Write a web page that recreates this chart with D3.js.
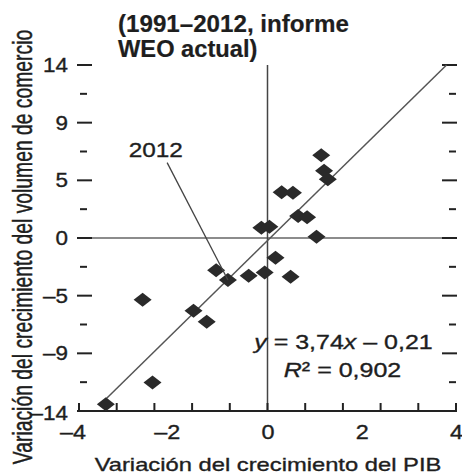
<!DOCTYPE html>
<html>
<head>
<meta charset="utf-8">
<script src="https://cdn.jsdelivr.net/npm/d3@7"></script>
<style>
body { margin: 0; background: #fff; }
text { font-family: "Liberation Sans", Arial, sans-serif; fill: #1e1e1e; stroke: #1e1e1e; stroke-width: 0.35px; }
</style>
</head>
<body>
<script>
var width = 462,
    height = 474;

// data
var gdp   = [1.14, 1.20, 1.28, 0.30, 0.54, 0.65, 0.84, -0.13, 0.04, 1.04, 0.17,
             -0.06, -0.40, 0.49, -1.09, -0.84, -2.65, -1.57, -1.29, -2.44, -3.43];
var trade = [6.70, 5.45, 4.75, 3.70, 3.67, 1.78, 1.67, 0.83, 0.91, 0.10, -1.59,
             -2.80, -3.05, -3.13, -2.60, -3.40, -5.00, -5.88, -6.77, -11.70, -13.45];
var label2012 = [-0.84, -3.40];
var fitCoef = [3.74, -0.21];
var fitText = ["3,74", "0,21", "0,902"];

var xTickValues = [-4, -2, 0, 2, 4],
    xTickLabels = ["–4", "–2", "0", "2", "4"];
var yTickValues = [-14, -28 / 3, -14 / 3, 0, 14 / 3, 28 / 3, 14],
    yTickLabels = ["–14", "–9", "–5", "0", "5", "9", "14"];

var x = d3.scaleLinear().domain([-4, 4]).range([79, 456]);
var y = d3.scaleLinear().domain([-14, 14]).range([411, 65]);

var svg = d3.select("body").append("svg")
    .attr("width", width)
    .attr("height", height);

// helper: text placed in its own transform, stretched sideways like the scan
function label(g, str, px, py, size, k, anchor, rot) {
    return g.append("text")
        .attr("transform", "translate(" + [px, py] + ")" + (rot ? " rotate(" + rot + ")" : "") + " scale(" + k + ",1)")
        .attr("text-anchor", anchor)
        .style("font-size", size + "px")
        .text(str);
}

// zero lines
svg.append("line")
    .attr("x1", x(-4)).attr("x2", x(4))
    .attr("y1", y(0)).attr("y2", y(0))
    .attr("stroke", "#666").attr("stroke-width", 1.5);
svg.append("line")
    .attr("x1", x(0)).attr("x2", x(0))
    .attr("y1", y(14)).attr("y2", y(-14))
    .attr("stroke", "#444").attr("stroke-width", 1.5);

// bottom axis line and ticks (ticks every 0.8, labels every 2)
svg.append("line")
    .attr("x1", x(-4)).attr("x2", x(4))
    .attr("y1", y(-14)).attr("y2", y(-14))
    .attr("stroke", "#222").attr("stroke-width", 2);
svg.selectAll(".xt")
    .data(d3.range(11).map(function(i) { return -4 + 0.8 * i; }))
    .enter().append("line")
    .attr("x1", function(d) { return x(d); })
    .attr("x2", function(d) { return x(d); })
    .attr("y1", y(-14) + 1)
    .attr("y2", y(-14) - 8)
    .attr("stroke", "#222").attr("stroke-width", 2);

xTickValues.forEach(function(v, i) {
    label(svg, xTickLabels[i], x(v) + 7, 439, 19.5, 1.2, "end");
});

// y ticks, left and right
var yMinor = d3.range(6).map(function(i) { return -14 + 7 / 3 + i * 14 / 3; });
svg.selectAll(".yl")
    .data(yTickValues)
    .enter().append("line")
    .attr("x1", 77).attr("x2", 92)
    .attr("y1", function(d) { return y(d); })
    .attr("y2", function(d) { return y(d); })
    .attr("stroke", "#222").attr("stroke-width", 2);
svg.selectAll(".ylm")
    .data(yMinor)
    .enter().append("line")
    .attr("x1", 80).attr("x2", 87)
    .attr("y1", function(d) { return y(d); })
    .attr("y2", function(d) { return y(d); })
    .attr("stroke", "#222").attr("stroke-width", 2);
svg.selectAll(".yr")
    .data(yTickValues.slice(1))
    .enter().append("line")
    .attr("x1", 442).attr("x2", 457)
    .attr("y1", function(d) { return y(d); })
    .attr("y2", function(d) { return y(d); })
    .attr("stroke", "#222").attr("stroke-width", 2);
svg.selectAll(".yrm")
    .data(yMinor)
    .enter().append("line")
    .attr("x1", 449).attr("x2", 456)
    .attr("y1", function(d) { return y(d); })
    .attr("y2", function(d) { return y(d); })
    .attr("stroke", "#222").attr("stroke-width", 2);

yTickValues.forEach(function(v, i) {
    label(svg, yTickLabels[i], 68, y(v) + 7 + (i === 0 ? 2 : 0), 19.5, 1.15, "end");
});

// regression line, clipped at the top of the frame
var xEnd = (14 - fitCoef[1]) / fitCoef[0];
svg.append("line")
    .attr("x1", x(-3.45)).attr("y1", y(fitCoef[0] * -3.45 + fitCoef[1]))
    .attr("x2", x(xEnd)).attr("y2", y(14))
    .attr("stroke", "#555").attr("stroke-width", 1.5);

// diamonds
var hw = 9, hh = 7;
svg.selectAll(".pt")
    .data(d3.zip(gdp, trade))
    .enter().append("path")
    .attr("d", function(d) {
        var cx = x(d[0]), cy = y(d[1]);
        return "M" + [cx, cy - hh] + "L" + [cx + hw, cy] + "L" + [cx, cy + hh] + "L" + [cx - hw, cy] + "Z";
    })
    .attr("fill", "#2a2a2a");

// 2012 annotation
svg.append("line")
    .attr("x1", x(-2.13)).attr("y1", y(6.1))
    .attr("x2", x(label2012[0])).attr("y2", y(label2012[1]))
    .attr("stroke", "#444").attr("stroke-width", 1.3);
label(svg, "2012", x(-2.37), 157, 21, 1.16, "middle");

// equation
var eq = svg.append("text")
    .attr("transform", "translate(" + [343.5, 349] + ") scale(1.19,1)")
    .attr("text-anchor", "middle")
    .style("font-size", "21px");
eq.append("tspan").style("font-style", "italic").text("y");
eq.append("tspan").text(" = " + fitText[0]);
eq.append("tspan").style("font-style", "italic").text("x");
eq.append("tspan").text(" – " + fitText[1]);

var r2 = svg.append("text")
    .attr("transform", "translate(" + [342.5, 377] + ") scale(1.19,1)")
    .attr("text-anchor", "middle")
    .style("font-size", "21px");
r2.append("tspan").style("font-style", "italic").text("R");
r2.append("tspan").text("² = " + fitText[2]);

// title
label(svg, "(1991–2012, informe", 118, 32, 23, 1.05, "start").style("font-weight", "bold").style("stroke-width", "0.2px");
label(svg, "WEO actual)", 118, 57, 23, 1.03, "start").style("font-weight", "bold").style("stroke-width", "0.2px");

// axis titles
label(svg, "Variación del crecimiento del PIB", 268, 471, 19, 1.25, "middle");
label(svg, "Variación del crecimiento del volumen de comercio", 32, 247, 28, 0.69, "middle", -90).style("stroke-width", "0.5px");
</script>
</body>
</html>
